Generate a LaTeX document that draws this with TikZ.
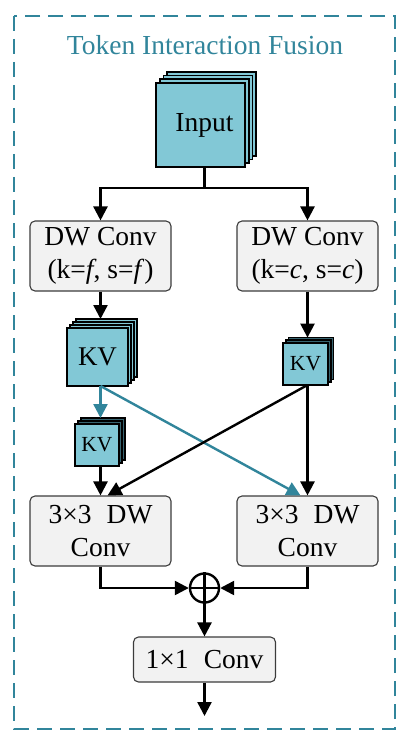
\documentclass[tikz,border=0pt]{standalone}
\usepackage{fontspec}
\setmainfont{Liberation Serif}
\usetikzlibrary{arrows.meta,calc}
\definecolor{tealc}{RGB}{49,133,155}
\definecolor{stackfill}{RGB}{130,200,214}
\definecolor{darkfill}{RGB}{55,100,112}
\definecolor{boxfill}{RGB}{242,242,242}
\definecolor{boxline}{RGB}{60,60,60}
\newcommand\mystack[9]{%
  \foreach \i in {#6,...,1}{%
    \node[stackbox,fill=#9,minimum width=#4pt,minimum height=#5pt] (#1-\i) at ({#2+\i*#7},{#3-\i*#7}) {};
  }
  \node[stackbox,minimum width=#4pt,minimum height=#5pt] (#1) at (#2,#3) {#8};
}
\begin{document}
\begin{tikzpicture}[x=1pt,y=-1pt,
  stackbox/.style={draw=black,line width=1.7pt,fill=stackfill,inner sep=0pt,outer sep=0pt},
  box/.style={draw=boxline,line width=1.1pt,fill=boxfill,rounded corners=5pt,align=center,inner sep=0pt,
    font=\fontsize{27.5}{33}\selectfont},
  arr/.style={line width=2.4pt,-{Triangle[length=14pt,width=14pt]}},
  tarr/.style={line width=2.4pt,draw=tealc,-{Triangle[length=14pt,width=14pt]},tealc},
  ln/.style={line width=2.4pt}]
\useasboundingbox (0,0) rectangle (412,746);
\draw[tealc,line width=1.8pt,dash pattern=on 15pt off 8pt] (14,16) rectangle (395,729);
\node[text=tealc,font=\fontsize{27.5}{30}\selectfont] (title) at (205,45) {Token Interaction Fusion};
% input stack
\mystack{inp}{200.5}{125}{89}{84}{3}{3.7}{\fontsize{27.5}{30}\selectfont\hspace{8pt}Input}{stackfill}
% DW conv boxes
\node[box,minimum width=141pt,minimum height=70pt] (dwl) at (100.5,256) {DW Conv\\(k=\textit{f}, s=\textit{f})};
\node[box,minimum width=141pt,minimum height=70pt] (dwr) at (307.5,256) {DW Conv\\(k=\textit{c}, s=\textit{c})};
% KV stacks
\mystack{kvl}{97.5}{357}{61}{58}{3}{3}{\fontsize{27}{30}\selectfont KV}{stackfill}
\mystack{kvr}{305.5}{364}{45}{42}{2}{2.7}{\fontsize{21.5}{25}\selectfont KV}{darkfill}
\mystack{kvs}{97}{445}{44}{42}{2}{3}{\fontsize{21.5}{25}\selectfont KV}{darkfill}
% 3x3 boxes
\node[box,minimum width=141pt,minimum height=70pt] (cvl) at (100.5,531) {3×3\hspace{0.55em}DW\\Conv};
\node[box,minimum width=141pt,minimum height=70pt] (cvr) at (307.5,531) {3×3\hspace{0.55em}DW\\Conv};
% sum
\node[circle,draw,line width=2.4pt,minimum size=29pt,inner sep=0pt] (sum) at (204.5,588) {};
\draw[line width=2.4pt] (sum.north) -- (sum.south) (sum.west) -- (sum.east);
% 1x1
\node[box,minimum width=142pt,minimum height=45pt] (c11) at (204.5,659.5) {1×1\hspace{0.55em}Conv};
\coordinate (split) at (204.5,188);
\coordinate (out) at (204.5,716);
% connectors
\draw[ln] (inp.south -| split) -- (split);
\draw[arr] (split) -| (dwl.north);
\draw[arr] (split) -| (dwr.north);
\draw[arr] (dwl.south) -- (dwl.south |- kvl-3.north);
\draw[arr] (dwr.south) -- (dwr.south |- kvr-2.north);
\coordinate (kvlout) at (kvl.south -| dwl.south);
\coordinate (kvrout) at (kvr.south -| dwr.south);
\draw[tarr] (kvlout) -- (kvlout |- kvs-2.north);
\draw[tarr] (kvlout) -- ([xshift=-7pt]cvr.north);
\draw[arr] (kvrout) -- (cvr.north);
\draw[arr] (kvrout) -- ([xshift=7pt]cvl.north);
\draw[arr] (kvs.south -| cvl.north) -- (cvl.north);
\draw[arr] (cvl.south) |- (sum.west);
\draw[arr] (cvr.south) |- (sum.east);
\draw[arr] (sum.south) -- (c11.north);
\draw[arr] (c11.south) -- (out);
\end{tikzpicture}
\end{document}
